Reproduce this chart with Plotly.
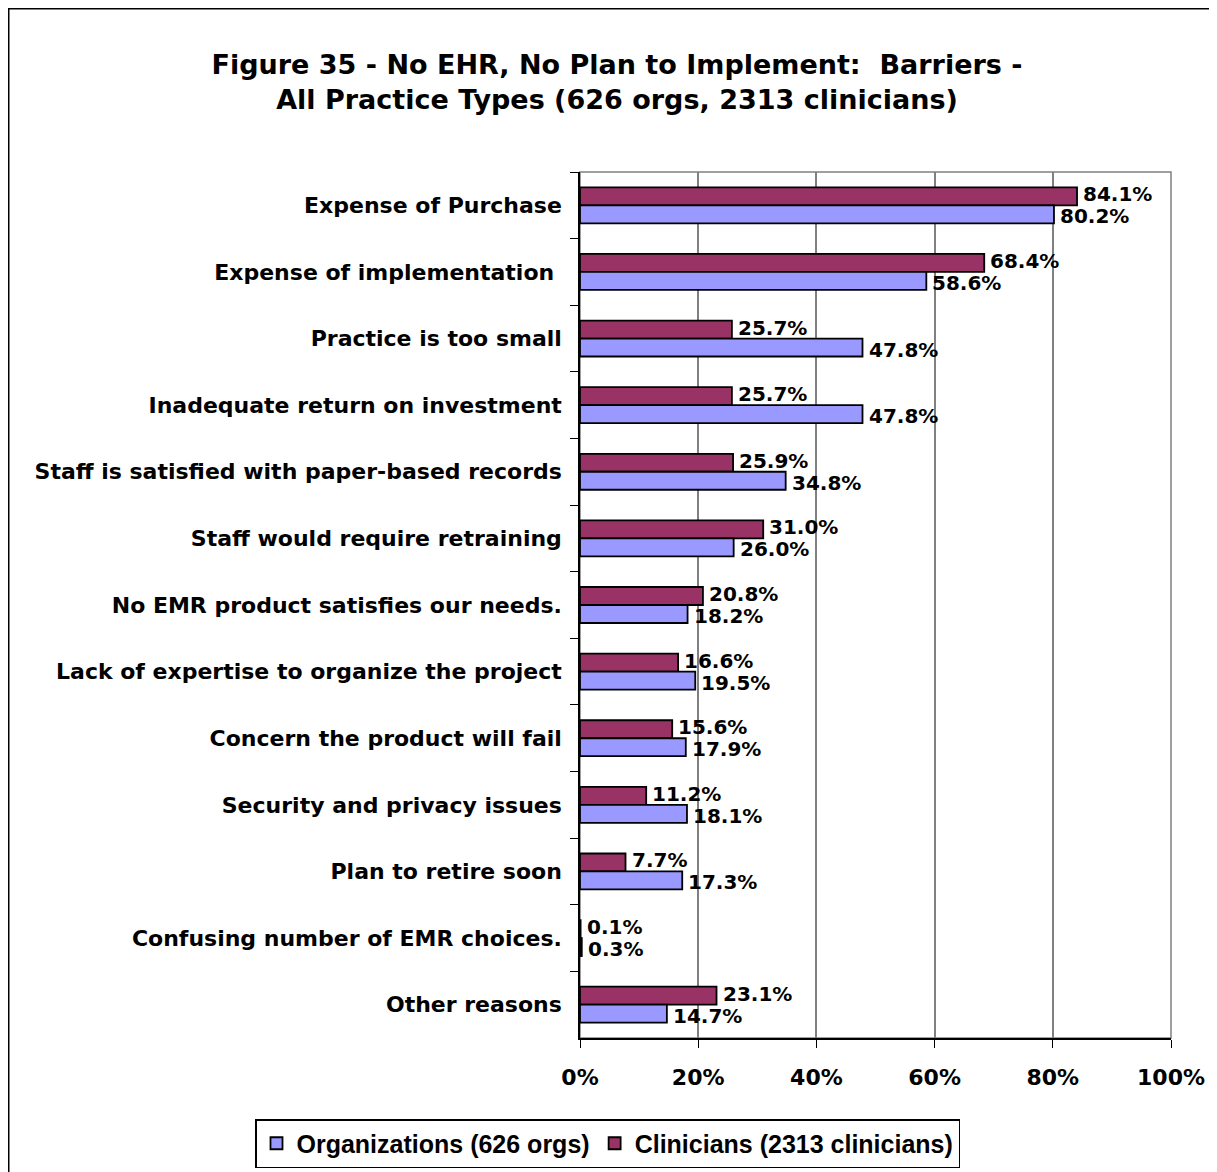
import plotly.graph_objects as go

# the page body has an 8px margin, so the figure is 8px smaller and offsets are shifted
PAD = 8
W, H = 1217 - PAD, 1172 - PAD

categories = [
    "Expense of Purchase",
    "Expense of implementation ",
    "Practice is too small",
    "Inadequate return on investment",
    "Staff is satisfied with paper-based records",
    "Staff would require retraining",
    "No EMR product satisfies our needs.",
    "Lack of expertise to organize the project",
    "Concern the product will fail",
    "Security and privacy issues",
    "Plan to retire soon",
    "Confusing number of EMR choices.",
    "Other reasons",
]
clinicians = [84.1, 68.4, 25.7, 25.7, 25.9, 31.0, 20.8, 16.6, 15.6, 11.2, 7.7, 0.1, 23.1]
organizations = [80.2, 58.6, 47.8, 47.8, 34.8, 26.0, 18.2, 19.5, 17.9, 18.1, 17.3, 0.3, 14.7]

FONT = "DejaVu Sans, Arial, sans-serif"
LEGEND_FONT = "Liberation Sans, Arial, sans-serif"

# plot area in page pixels
L, R, T, B = 580 - PAD, 1171 - PAD, 172 - PAD, 1038 - PAD


def px_x(x):
    return (x - PAD - L) / (R - L)


def px_y(y):
    return (B - (y - PAD)) / (B - T)


fig = go.Figure()
fig.add_trace(go.Bar(
    name="Clinicians (2313 clinicians)", y=categories, x=clinicians, orientation="h",
    marker=dict(color="#993366", line=dict(color="black", width=1.8)),
    legendrank=2,
))
fig.add_trace(go.Bar(
    name="Organizations (626 orgs)", y=categories, x=organizations, orientation="h",
    marker=dict(color="#9999FF", line=dict(color="black", width=1.8)),
    legendrank=1,
))

# value labels, nudged up (clinicians) and down (organizations) like the original
for vals, shift in [(clinicians, 11), (organizations, -11)]:
    for cat, v in zip(categories, vals):
        fig.add_annotation(
            x=v, y=cat, text=f"<b>{v:.1f}%</b>", showarrow=False,
            xanchor="left", yanchor="middle", xshift=4, yshift=shift,
            font=dict(size=20, color="black", family=FONT),
        )

fig.update_layout(
    width=W, height=H,
    margin=dict(l=L, r=W - R, t=T, b=H - B, autoexpand=False),
    paper_bgcolor="white", plot_bgcolor="white",
    barmode="group", bargap=0.46, bargroupgap=0,
    font=dict(family=FONT, color="black"),
    title=dict(
        text="<b>Figure 35 - No EHR, No Plan to Implement:  Barriers -<br>All Practice Types (626 orgs, 2313 clinicians)</b>",
        x=(617 - PAD) / W, xanchor="center", y=1 - (74 - PAD) / H, yanchor="middle",
        font=dict(size=27, family=FONT),
    ),
    legend=dict(
        orientation="h", x=px_x(255), xanchor="left", y=px_y(1119), yanchor="top",
        bordercolor="black", borderwidth=1.5, bgcolor="white",
        font=dict(size=25, family=LEGEND_FONT, weight="bold"), itemwidth=30,
    ),
    showlegend=True,
)
fig.update_xaxes(
    range=[0, 100], dtick=20, ticksuffix="%", showgrid=True, gridcolor="#808080", gridwidth=1.5,
    showline=True, linecolor="black", linewidth=1.5, ticks="outside", ticklen=8, tickcolor="black",
    tickfont=dict(size=22, family=FONT, weight="bold"), ticklabelstandoff=11, zeroline=False,
)
fig.update_yaxes(
    autorange="reversed", showline=True, linecolor="black", linewidth=1.5,
    ticks="outside", tickson="boundaries", ticklen=8, tickcolor="black",
    tickfont=dict(size=22, family=FONT, weight="bold"), ticklabelstandoff=12,
)

# gray frame of the plot area and outer chart border
fig.add_shape(type="rect", xref="paper", yref="paper", x0=0, x1=1, y0=0, y1=1,
              line=dict(color="#808080", width=1.5), layer="below")
fig.add_shape(type="rect", xref="paper", yref="paper",
              x0=px_x(8.5), x1=px_x(1260), y0=px_y(8.5), y1=px_y(1220),
              line=dict(color="black", width=2), layer="below")

fig.write_html("out.html")
